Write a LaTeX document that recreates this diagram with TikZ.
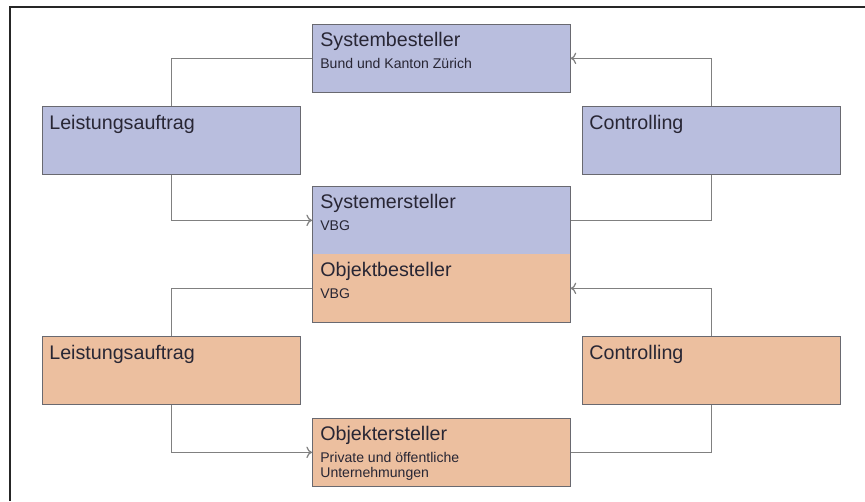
\documentclass[tikz,border=0pt]{standalone}
\usepackage{fontspec}
\setmainfont{Liberation Sans}
\usetikzlibrary{positioning,arrows.meta}
\definecolor{sysblue}{RGB}{185,190,222}
\definecolor{objorange}{RGB}{236,191,159}
\definecolor{boxline}{RGB}{105,105,112}
\definecolor{connline}{RGB}{128,128,128}
\definecolor{inkdark}{RGB}{40,38,52}
\tikzset{
  blk/.style={minimum width=5.16cm,minimum height=1.36cm,inner sep=0pt,anchor=north west},
  sysblk/.style={blk,draw=boxline,fill=sysblue},
  objblk/.style={blk,draw=boxline,fill=objorange},
  blktext/.style={inner sep=0pt,align=left,text=inkdark,font=\fontsize{11.2}{13}\selectfont},
  conn/.style={connline,line width=0.7pt,>={To[length=3.2pt,width=6.5pt]}},
}
\newcommand{\subline}[1]{{\fontsize{8}{8.6}\selectfont #1}}
\begin{document}
\begin{tikzpicture}[x=0.02cm,y=-0.02cm]
                \useasboundingbox (0,0) rectangle (865,501);
                \draw[line width=0.9pt,black!85] (10,501) -- (10,7) -- (865,7);
                %% boxes
                \node[sysblk] (sysBest) at (312,24) {};
                \node[sysblk] (leistA) at (42,106) {};
                \node[sysblk] (contA) at (582,106) {};
                \node[blk,fill=sysblue] (sysErst) at (312,186) {};
                \node[blk,fill=objorange] (objBest) at (312,254) {};
                \draw[boxline] (sysErst.north west) rectangle (objBest.south east);
                \node[objblk] (leistB) at (42,336) {};
                \node[objblk] (contB) at (582,336) {};
                \node[objblk] (objErst) at (312,418) {};
                %% texts
                \node[blktext,below right=0.15cm and 0.16cm of sysBest.north west] (tSysBest) {Systembesteller\\[-0.5pt]\subline{Bund und Kanton Zürich}};
                \node[blktext,below right=0.17cm and 0.14cm of leistA.north west] (tLeistA) {Leistungsauftrag};
                \node[blktext,below right=0.17cm and 0.14cm of contA.north west] (tContA) {Controlling};
                \node[blktext,below right=0.15cm and 0.16cm of sysErst.north west] (tSysErst) {Systemersteller\\[-0.5pt]\subline{VBG}};
                \node[blktext,below right=0.15cm and 0.16cm of objBest.north west] (tObjBest) {Objektbesteller\\[-0.5pt]\subline{VBG}};
                \node[blktext,below right=0.17cm and 0.14cm of leistB.north west] (tLeistB) {Leistungsauftrag};
                \node[blktext,below right=0.17cm and 0.14cm of contB.north west] (tContB) {Controlling};
                \node[blktext,below right=0.15cm and 0.16cm of objErst.north west] (tObjErst) {Objektersteller\\[-0.5pt]\subline{Private und öffentliche}\\[-4pt]\subline{Unternehmungen}};
                %% connectors
                \draw[conn] (leistA.north) |- (sysBest.west);
                \draw[conn,->] (leistA.south) |- (sysErst.west);
                \draw[conn] (sysErst.east) -| (contA.south);
                \draw[conn,->] (contA.north) |- (sysBest.east);
                \draw[conn] (objBest.west) -| (leistB.north);
                \draw[conn,->] (leistB.south) |- (objErst.west);
                \draw[conn] (objErst.east) -| (contB.south);
                \draw[conn,->] (contB.north) |- (objBest.east);
            \end{tikzpicture}
\end{document}
